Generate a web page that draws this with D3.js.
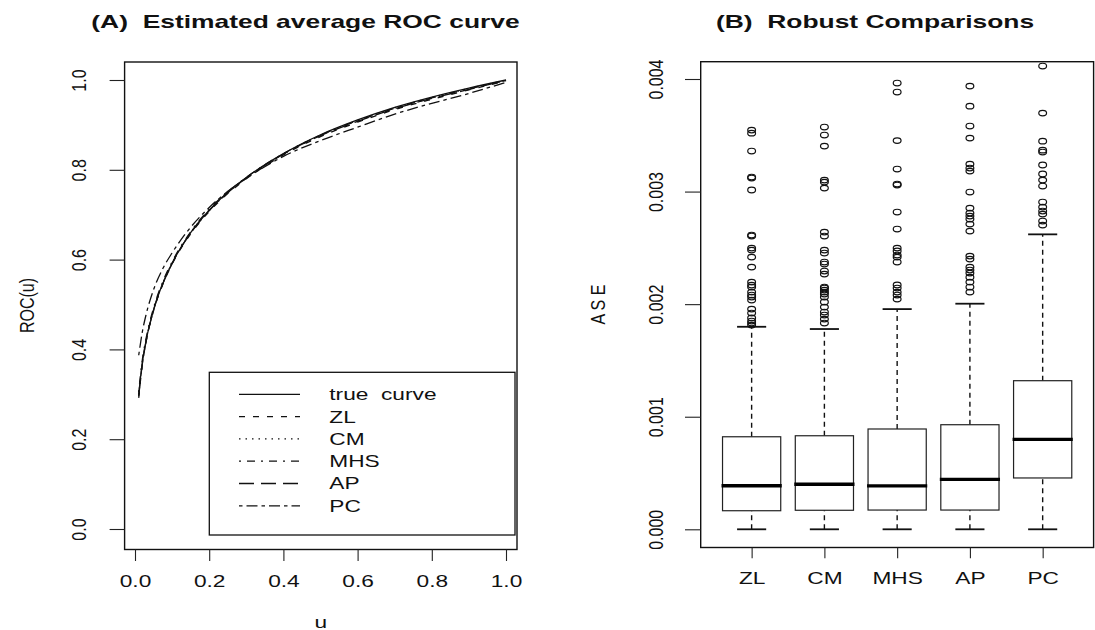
<!DOCTYPE html>
<html>
<head>
<meta charset="utf-8">
<script src="https://cdn.jsdelivr.net/npm/d3@7"></script>
<style>
  html, body { margin: 0; padding: 0; background: #fff; }
  svg { display: block; }
  text { font-family: "Liberation Sans", Arial, Helvetica, sans-serif; fill: #111; white-space: pre; }
</style>
</head>
<body>
<svg id="chart" width="1095" height="630"></svg>
<script>
// ---------------- DATA ----------------
// Panel A: estimated average ROC curves
const uGrid   = [0.01, 0.02, 0.03, 0.05, 0.075, 0.1, 0.15, 0.2, 0.25, 0.3, 0.4, 0.5, 0.6, 0.7, 0.8, 0.9, 1.0];
const rocTrue = [0.300, 0.372, 0.420, 0.488, 0.547, 0.592, 0.660, 0.710, 0.750, 0.783, 0.836, 0.878, 0.911, 0.939, 0.962, 0.982, 1.000];
const rocZL   = [0.292, 0.368, 0.418, 0.486, 0.545, 0.590, 0.657, 0.707, 0.747, 0.780, 0.833, 0.874, 0.906, 0.934, 0.957, 0.978, 0.998];
const rocCM   = [0.298, 0.371, 0.419, 0.488, 0.547, 0.592, 0.660, 0.709, 0.749, 0.782, 0.835, 0.877, 0.910, 0.938, 0.961, 0.981, 1.000];
const rocMHS  = [0.305, 0.378, 0.425, 0.492, 0.551, 0.595, 0.662, 0.712, 0.751, 0.783, 0.836, 0.877, 0.909, 0.937, 0.960, 0.980, 0.999];
const rocAP   = [0.296, 0.369, 0.418, 0.487, 0.546, 0.591, 0.659, 0.709, 0.749, 0.782, 0.835, 0.876, 0.908, 0.936, 0.959, 0.979, 0.999];
const rocPC   = [0.387, 0.440, 0.478, 0.533, 0.580, 0.615, 0.672, 0.716, 0.752, 0.781, 0.830, 0.865, 0.895, 0.924, 0.948, 0.970, 0.995];
const legendLabels = ["true  curve", "ZL", "CM", "MHS", "AP", "PC"];
const rocTicks = [0, 0.2, 0.4, 0.6, 0.8, 1.0];

// Panel B: ASE box plots
const methods     = ["ZL", "CM", "MHS", "AP", "PC"];
const whiskerLow  = [0, 0, 0, 0, 0];
const quart1      = [0.000165, 0.000169, 0.000171, 0.000171, 0.000456];
const medians     = [0.000387, 0.000400, 0.000385, 0.000444, 0.000799];
const quart3      = [0.000822, 0.000831, 0.000891, 0.000929, 0.001320];
const whiskerHigh = [0.001799, 0.001779, 0.001956, 0.002004, 0.002620];
const outZL  = [0.003546, 0.003519, 0.003360, 0.003129, 0.003120, 0.003014, 0.002614, 0.002605, 0.002498, 0.002480,
                0.002418, 0.002329, 0.002196, 0.002169, 0.002152, 0.002107, 0.002081, 0.002063, 0.002036, 0.001956,
                0.001921, 0.001877, 0.001850, 0.001832, 0.001814];
const outCM  = [0.003573, 0.003502, 0.003404, 0.003102, 0.003084, 0.003031, 0.002640, 0.002605, 0.002480, 0.002454,
                0.002374, 0.002356, 0.002294, 0.002267, 0.002152, 0.002143, 0.002125, 0.002107, 0.002090, 0.002063,
                0.002019, 0.001974, 0.001930, 0.001903, 0.001867, 0.001832];
const outMHS = [0.003964, 0.003884, 0.003453, 0.003200, 0.003067, 0.003058, 0.002818, 0.002667, 0.002498, 0.002472,
                0.002436, 0.002418, 0.002374, 0.002170, 0.002143, 0.002107, 0.002081, 0.002045];
const outAP  = [0.003937, 0.003759, 0.003582, 0.003475, 0.003244, 0.003209, 0.003182, 0.002996, 0.002853, 0.002809,
                0.002782, 0.002756, 0.002711, 0.002649, 0.002427, 0.002400, 0.002329, 0.002303, 0.002276, 0.002240,
                0.002196, 0.002152, 0.002107];
const outPC  = [0.004115, 0.003697, 0.003448, 0.003368, 0.003351, 0.003236, 0.003156, 0.003102, 0.003049, 0.002907,
                0.002862, 0.002827, 0.002800, 0.002738, 0.002702];
const aseTicks = [0, 0.001, 0.002, 0.003, 0.004];

// ---------------- LAYOUT ----------------
const SX = 1.42;      // horizontal stretch of horizontal text
const SXR = 1.25;     // horizontal stretch of rotated text
const FS = 16;        // base font size
const svg = d3.select("#chart");

function label(x, y, str, opt = {}) {
  const size = opt.size || FS, rot = opt.rotate;
  const sx = rot ? SXR : SX;
  return svg.append("text")
    .attr("transform", `translate(${x},${y}) scale(${sx},1)` + (rot ? " rotate(-90)" : ""))
    .attr("text-anchor", opt.anchor || "middle")
    .attr("font-size", size)
    .attr("font-weight", opt.weight || "normal")
    .text(str);
}

// ================= PANEL A =================
const A = { left: 124.6, right: 517, top: 62, bottom: 549.5 };
const xA = d3.scaleLinear().domain([0, 1]).range([135, 506]);
const yA = d3.scaleLinear().domain([0, 1]).range([529, 80]);

const seriesA = [
  { name: legendLabels[0], vals: rocTrue, dash: null },
  { name: legendLabels[1], vals: rocZL,  dash: "6,8" },
  { name: legendLabels[2], vals: rocCM,  dash: "1.5,5" },
  { name: legendLabels[3], vals: rocMHS, dash: "2,6,8,6" },
  { name: legendLabels[4], vals: rocAP,  dash: "15,7" },
  { name: legendLabels[5], vals: rocPC,  dash: "3.5,4,11,4" }
];

const lineA = d3.line().x((d, i) => xA(uGrid[i])).y(d => yA(d)).curve(d3.curveMonotoneX);
svg.append("g").selectAll("path").data(seriesA).join("path")
  .attr("d", s => lineA(s.vals))
  .attr("fill", "none").attr("stroke", "#111").attr("stroke-width", 1.3)
  .attr("stroke-dasharray", s => s.dash);

// Legend
const leg = { left: 209.3, top: 372.3, right: 515, bottom: 535, rowY0: 394.3, rowStep: 22.3 };
svg.append("rect").attr("x", leg.left).attr("y", leg.top)
  .attr("width", leg.right - leg.left).attr("height", leg.bottom - leg.top)
  .attr("fill", "#fff").attr("stroke", "#111").attr("stroke-width", 1.3);
seriesA.forEach((s, i) => {
  const y = leg.rowY0 + i * leg.rowStep;
  svg.append("line").attr("x1", 239).attr("x2", 300).attr("y1", y).attr("y2", y)
    .attr("stroke", "#111").attr("stroke-width", 1.3).attr("stroke-dasharray", s.dash);
  label(329.3, y + 5.9, s.name, { anchor: "start" });
});

// Box
svg.append("rect").attr("x", A.left).attr("y", A.top)
  .attr("width", A.right - A.left).attr("height", A.bottom - A.top)
  .attr("fill", "none").attr("stroke", "#111").attr("stroke-width", 1.4);

// Axes
const axAx = svg.append("g").attr("transform", `translate(0,${A.bottom})`)
  .call(d3.axisBottom(xA).tickValues(rocTicks).tickSize(11.5).tickSizeOuter(0).tickFormat(d3.format(".1f")));
axAx.select(".domain").remove();
axAx.selectAll(".tick line").attr("stroke", "#222").attr("stroke-width", 1.1);
axAx.selectAll(".tick text").attr("y", null).attr("dy", null).attr("fill", "#111")
  .attr("font-size", FS).attr("font-family", "Liberation Sans, Arial, sans-serif")
  .attr("transform", `translate(0,37.5) scale(${SX},1)`);

const ayA = svg.append("g").attr("transform", `translate(${A.left},0)`)
  .call(d3.axisLeft(yA).tickValues(rocTicks).tickSize(15).tickSizeOuter(0).tickFormat(d3.format(".1f")));
ayA.select(".domain").remove();
ayA.selectAll(".tick line").attr("stroke", "#222").attr("stroke-width", 1.1);
ayA.selectAll(".tick text").attr("x", null).attr("dy", null).attr("fill", "#111")
  .attr("font-size", FS).attr("font-family", "Liberation Sans, Arial, sans-serif")
  .attr("text-anchor", "middle")
  .attr("transform", `translate(${78.8 - A.left + 7.2},0) scale(${SXR},1) rotate(-90)`);

label(320.8, 628, "u");
label(34, 305.5, "ROC(u)", { rotate: true });
label(305.5, 28, "(A)  Estimated average ROC curve", { size: 18.6, weight: "bold" });

// ================= PANEL B =================
const B = { left: 700.7, right: 1093.6, top: 61.7, bottom: 547.5 };
const xB = d3.scaleLinear().domain([0.3, 5.7]).range([B.left, B.right]);
const yB = d3.scaleLinear().domain([0, 0.004]).range([529.3, 79]);
const halfW = (xB(1.4) - xB(1)) ;
const capHalf = halfW / 2;

const boxes = methods.map((m, i) => ({
  name: m, pos: i + 1, lo: whiskerLow[i], q1: quart1[i], med: medians[i], q3: quart3[i], hi: whiskerHigh[i],
  out: [outZL, outCM, outMHS, outAP, outPC][i]
}));

const gB = svg.append("g");
boxes.forEach(b => {
  const cx = xB(b.pos);
  // whiskers
  [[b.lo, b.q1], [b.q3, b.hi]].forEach(([a, c]) => {
    gB.append("line").attr("x1", cx).attr("x2", cx).attr("y1", yB(a)).attr("y2", yB(c))
      .attr("stroke", "#111").attr("stroke-width", 1.4).attr("stroke-dasharray", "5,4");
  });
  // caps
  [b.lo, b.hi].forEach(v => {
    gB.append("line").attr("x1", cx - capHalf).attr("x2", cx + capHalf).attr("y1", yB(v)).attr("y2", yB(v))
      .attr("stroke", "#111").attr("stroke-width", 1.8);
  });
  // box
  gB.append("rect").attr("x", cx - halfW).attr("width", 2 * halfW)
    .attr("y", yB(b.q3)).attr("height", yB(b.q1) - yB(b.q3))
    .attr("fill", "#fff").attr("stroke", "#222").attr("stroke-width", 1.2);
  // median
  gB.append("line").attr("x1", cx - halfW - 1).attr("x2", cx + halfW + 1)
    .attr("y1", yB(b.med)).attr("y2", yB(b.med))
    .attr("stroke", "#000").attr("stroke-width", 3.3);
  // outliers
  gB.selectAll(null).data(b.out).join("ellipse")
    .attr("cx", cx).attr("cy", d => yB(d)).attr("rx", 3.9).attr("ry", 2.8)
    .attr("fill", "none").attr("stroke", "#111").attr("stroke-width", 1.2);
});

svg.append("rect").attr("x", B.left).attr("y", B.top)
  .attr("width", B.right - B.left).attr("height", B.bottom - B.top)
  .attr("fill", "none").attr("stroke", "#111").attr("stroke-width", 1.4);

const axB = svg.append("g").attr("transform", `translate(0,${B.bottom})`)
  .call(d3.axisBottom(xB).tickValues(boxes.map(b => b.pos)).tickSize(10.7).tickSizeOuter(0)
    .tickFormat((d, i) => methods[i]));
axB.select(".domain").remove();
axB.selectAll(".tick line").attr("stroke", "#222").attr("stroke-width", 1.1);
axB.selectAll(".tick text").attr("y", null).attr("dy", null).attr("fill", "#111")
  .attr("font-size", FS).attr("font-family", "Liberation Sans, Arial, sans-serif")
  .attr("transform", `translate(0,36.8) scale(${SX},1)`);

const ayB = svg.append("g").attr("transform", `translate(${B.left},0)`)
  .call(d3.axisLeft(yB).tickValues(aseTicks).tickSize(15.7).tickSizeOuter(0).tickFormat(d3.format(".3f")));
ayB.select(".domain").remove();
ayB.selectAll(".tick line").attr("stroke", "#222").attr("stroke-width", 1.1);
ayB.selectAll(".tick text").attr("x", null).attr("dy", null).attr("fill", "#111")
  .attr("font-size", FS).attr("font-family", "Liberation Sans, Arial, sans-serif")
  .attr("text-anchor", "middle")
  .attr("transform", `translate(${655.8 - B.left + 7.2},0) scale(${SXR},1) rotate(-90)`);

label(605, 304.6, "A S E", { rotate: true });
label(875, 28, "(B)  Robust Comparisons", { size: 18.6, weight: "bold" });
</script>
</body>
</html>
